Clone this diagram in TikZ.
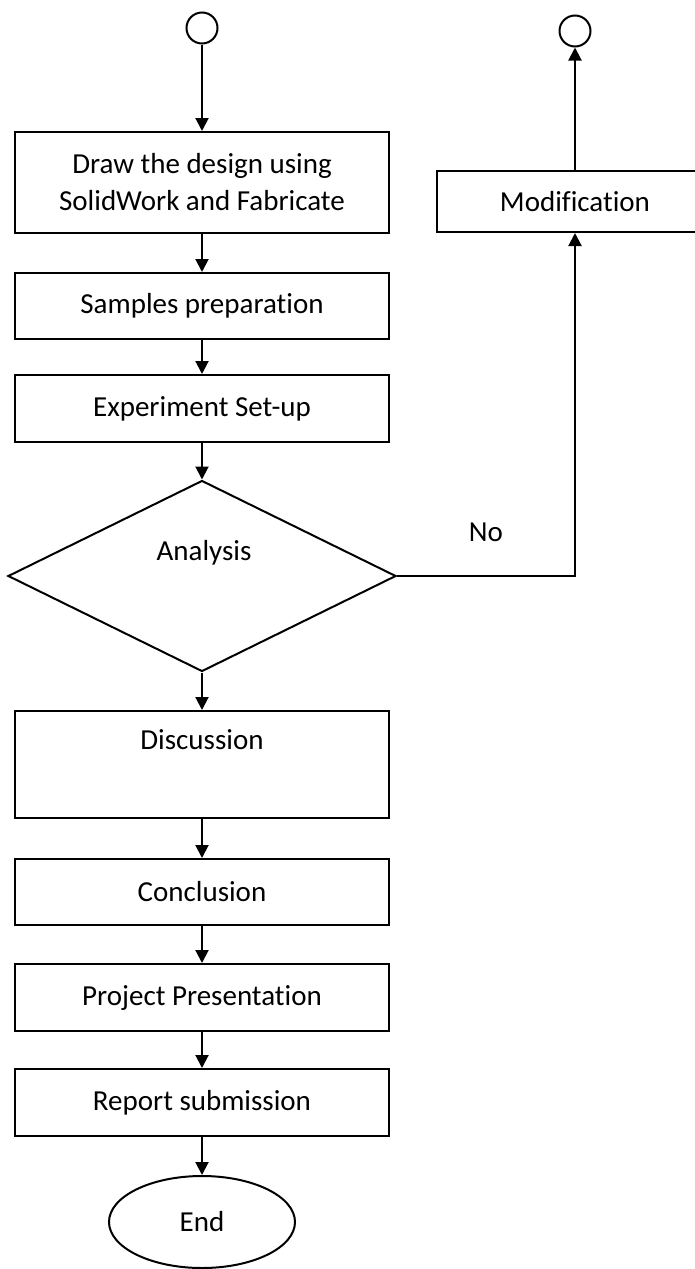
\documentclass[tikz,border=0pt]{standalone}
\usepackage{fontspec}
\setmainfont[Ligatures=NoCommon]{Carlito}
\usetikzlibrary{arrows.meta}
\usetikzlibrary{shapes.geometric}
\tikzset{flow/.style={-{Triangle[length=13pt,width=13pt]}},
  stepbox/.style={draw, line width=2pt, minimum width=374pt, inner sep=0pt},
  decision/.style={draw, diamond, line width=2pt, minimum width=388pt, minimum height=191pt, inner sep=0pt},
  terminal/.style={draw, circle, line width=2pt, minimum size=31pt, inner sep=0pt}}

\begin{document}
\begin{tikzpicture}[x=1pt, y=-1pt, line width=2pt, font=\fontsize{29}{37}\selectfont]
      \useasboundingbox (0, 0) rectangle (695, 1269);

      \node [terminal] (start) at (202, 28) {};
      \node [terminal] (back) at (575, 31) {};

      \node [stepbox, minimum height=101pt, align=center] (design) at (202, 182.5)
        {Draw the design using\\SolidWork and Fabricate};
      \node [stepbox, minimum height=66pt] (samples) at (202, 306) {Samples preparation};
      \node [stepbox, minimum height=67pt] (setup) at (202, 408.5) {Experiment Set-up};

      \node [decision] (analysis) at (202, 576) {};
      \node (analysis-txt) at (204, 553) {Analysis};

      \node [stepbox, minimum height=107pt] (discussion) at (202, 764.5) {};
      \node (discussion-txt) at (202, 740) {Discussion};
      \node [stepbox, minimum height=66pt] (conclusion) at (202, 892) {Conclusion};
      \node [stepbox, minimum height=67pt] (project) at (202, 997.5) {Project Presentation};
      \node [stepbox, minimum height=67pt] (report) at (202, 1102.5) {Report submission};
      \node [draw, ellipse, minimum width=186pt, minimum height=92pt, inner sep=0pt] (end) at (202, 1222) {End};

      \node [stepbox, minimum width=276pt, minimum height=61pt] (modification) at (575, 201.5) {Modification};
      \node (no) at (486, 532) {No};

      \draw [flow] (start) -- (design);
      \draw [flow] (design) -- (samples);
      \draw [flow] (samples) -- (setup);
      \draw [flow] (setup) -- (analysis);
      \draw [flow] (analysis) -- (discussion);
      \draw [flow] (discussion) -- (conclusion);
      \draw [flow] (conclusion) -- (project);
      \draw [flow] (project) -- (report);
      \draw [flow] (report) -- (end);

      \draw [flow] (analysis.east) -| (modification.south);
      \draw [flow] (modification) -- (back);

    \end{tikzpicture}
\end{document}
